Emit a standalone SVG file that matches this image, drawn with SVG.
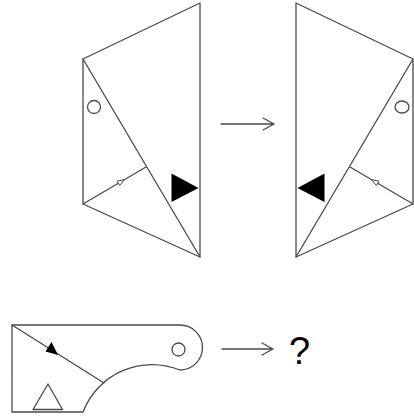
<svg xmlns="http://www.w3.org/2000/svg" width="414" height="420" viewBox="0 0 414 420">
<style>
.ln{fill:none;stroke:#4a4a4a;stroke-width:1.3;stroke-linejoin:round;stroke-linecap:round}
.solid{fill:#000;stroke:none}
.hollow{fill:#fff;stroke:#4a4a4a;stroke-width:1}
.q{font-family:"Liberation Sans",Arial,sans-serif;font-size:38px;fill:#000}
</style>
<rect width="414" height="420" fill="#fff"/>
<g id="figure1">
<path class="ln" d="M200,3 L83,59 L83,204 L200,257 Z"/>
<path class="ln" d="M83,59 L200,257"/>
<path class="ln" d="M83,204 L146,167"/>
<path class="hollow" d="M124.4,179.7 L119.6,185.5 L117,181.1 Z"/>
<circle class="ln" cx="94" cy="107" r="6.5"/>
<path class="solid" d="M171.5,173.5 L171.5,202 L198.5,188 Z"/>
</g>
<g id="figure2">
<path class="ln" d="M296,3 L413,59 L413,204 L296,257 Z"/>
<path class="ln" d="M413,59 L296,257"/>
<path class="ln" d="M413,204 L350,167"/>
<path class="hollow" d="M371.6,179.7 L376.4,185.5 L379,181.1 Z"/>
<ellipse class="ln" cx="402" cy="107" rx="7" ry="6"/>
<path class="solid" d="M324.5,173.5 L324.5,202 L297.5,188 Z"/>
</g>
<g id="figure3">
<path class="ln" d="M180,325 L12,325 L12,412 L83,412 A74 74 0 0 1 180,370 A22.5 22.5 0 0 0 180,325"/>
<path class="ln" d="M12,325 L104,383"/>
<path class="solid" d="M58,355 L45.5,351.5 L51.5,342 Z"/>
<circle class="ln" cx="178.5" cy="349.5" r="6.5"/>
<path class="ln" d="M33,409.5 L48,384 L62.5,409.5 Z"/>
</g>
<g id="connectors">
<path class="ln" d="M221,124 L274,124 M263,118 L274,124 L263,130"/>
<path class="ln" d="M222,349 L273,349 M262,343 L273,349 L262,355"/>
</g>
<g id="question">
<text class="q" x="289" y="364">?</text>
</g>
</svg>
